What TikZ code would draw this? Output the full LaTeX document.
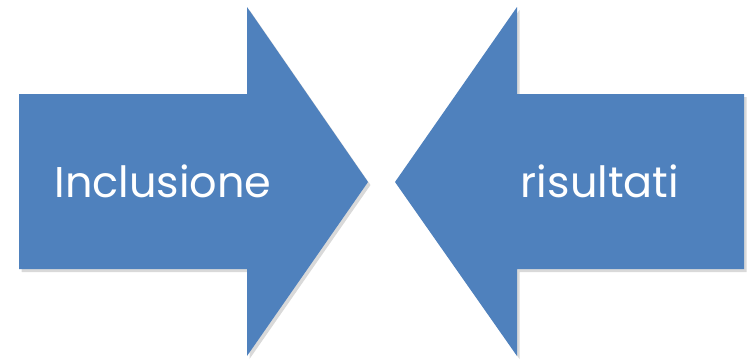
\documentclass[tikz,border=0pt]{standalone}
\usepackage{fontspec}
\setmainfont{Poppins}
\usetikzlibrary{shadows}
\definecolor{arrowblue}{RGB}{79,129,189}

\tikzset{
  bigarrow/.style={fill=arrowblue, draw=none, drop shadow={shadow xshift=2.5pt, shadow yshift=-3pt, opacity=0.3}},
  arrowtext/.style={text=white, font=\fontsize{43}{52}\selectfont, anchor=base, inner sep=0pt}
}

\begin{document}
\begin{tikzpicture}[x=1pt, y=-1pt]

      \useasboundingbox (0, 0) rectangle (748, 360);

      % left arrow, pointing right
      \path[bigarrow] (19, 94) -- (247, 94) -- (247, 7) -- (368, 182) -- (247, 356) -- (247, 269) -- (19, 269) -- cycle;
      % right arrow, pointing left
      \path[bigarrow] (744, 94) -- (517, 94) -- (517, 7) -- (395, 182) -- (517, 356) -- (517, 269) -- (744, 269) -- cycle;

      \node[arrowtext] (incl) at (163, 197) {Inclusione};
      \node[arrowtext] (ris) at (600, 197) {risultati};

    \end{tikzpicture}
\end{document}
